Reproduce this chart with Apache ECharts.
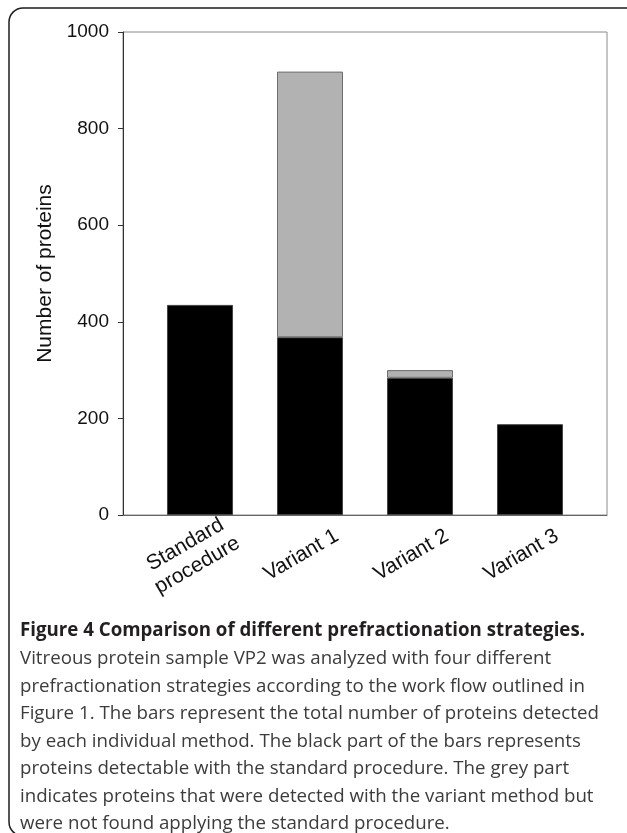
<!DOCTYPE html>
<html>
<head>
<meta charset="utf-8">
<script src="https://cdn.jsdelivr.net/npm/echarts@6/dist/echarts.min.js"></script>
<style>
html, body { margin: 0; padding: 0; background: #fff; }
#grafico { width: 627px; height: 833px; }
</style>
</head>
<body>
<div id="grafico"></div>
<script>
// dados
var categorias = ["Standard\nprocedure", "Variant 1", "Variant 2", "Variant 3"];
var valoresPadrao = [435, 368, 284, 188];   // parte preta
var valoresExtra = [0, 550, 16, 0];         // parte cinza
var ticksY = [0, 200, 400, 600, 800, 1000];

var tituloFigura = "Figure 4 Comparison of different prefractionation strategies.";
var linhasLegenda = [
    "Vitreous protein sample VP2 was analyzed with four different",
    "prefractionation strategies according to the work flow outlined in",
    "Figure 1. The bars represent the total number of proteins detected",
    "by each individual method. The black part of the bars represents",
    "proteins detectable with the standard procedure. The grey part",
    "indicates proteins that were detected with the variant method but",
    "were not found applying the standard procedure."
];

var fonteEixo = "'Liberation Sans', Arial, sans-serif";
var fonteTexto = "'Open Sans', 'Noto Sans', sans-serif";

var myChart = echarts.init(document.getElementById("grafico"));

var option = {
    animation: false,
    // moldura da figura (sai da imagem em baixo e a direita)
    graphic: [
        {
            type: "rect",
            silent: true,
            shape: { x: 9, y: 8, width: 640, height: 828, r: 14 },
            style: { fill: "none", stroke: "#1e1e1e", lineWidth: 1.5 }
        }
    ],
    title: {
        left: 15,
        top: 614,
        text: tituloFigura,
        subtext: linhasLegenda.join("\n"),
        itemGap: 2,
        textStyle: {
            fontFamily: fonteTexto,
            fontSize: 18.7,
            fontWeight: "bold",
            color: "#231f20",
            lineHeight: 24
        },
        subtextStyle: {
            fontFamily: fonteTexto,
            fontSize: 18.7,
            color: "#3c3c3c",
            lineHeight: 27.5
        }
    },
    grid: [
        { left: 123, top: 32, width: 484, height: 483, show: true, borderColor: "#8a8a8a", borderWidth: 1 },
        { left: 145, top: 32, width: 440, height: 483 }
    ],
    xAxis: [
        {
            gridIndex: 0,
            type: "value",
            min: 0,
            max: 1,
            axisLine: { show: true, lineStyle: { color: "#666", width: 1 } },
            axisTick: { show: false },
            axisLabel: { show: false },
            splitLine: { show: false }
        },
        {
            gridIndex: 1,
            type: "category",
            data: categorias,
            axisLine: { show: false },
            axisTick: { show: false },
            axisLabel: {
                rotate: 30,
                align: "center",
                verticalAlign: "middle",
                margin: 35,
                padding: [0, 20, 0, 0],
                fontFamily: fonteEixo,
                fontSize: 21,
                lineHeight: 24,
                color: "#111"
            }
        }
    ],
    yAxis: [
        {
            gridIndex: 0,
            type: "value",
            min: ticksY[0],
            max: ticksY[ticksY.length - 1],
            interval: ticksY[1] - ticksY[0],
            name: "Number of proteins",
            nameLocation: "middle",
            nameGap: 65,
            nameTextStyle: { fontFamily: fonteEixo, fontSize: 21, color: "#111" },
            axisLine: { show: true, lineStyle: { color: "#333", width: 1 } },
            axisTick: { show: true, inside: false, length: 5, lineStyle: { color: "#333" } },
            axisLabel: {
                margin: 14,
                fontFamily: fonteEixo,
                fontSize: 19,
                color: "#111",
                formatter: v => String(v)
            },
            splitLine: { show: false }
        },
        {
            gridIndex: 1,
            type: "value",
            min: ticksY[0],
            max: ticksY[ticksY.length - 1],
            show: false
        }
    ],
    series: [
        {
            name: "standard",
            type: "bar",
            xAxisIndex: 1,
            yAxisIndex: 1,
            stack: "total",
            barWidth: 66,
            data: valoresPadrao,
            itemStyle: { color: "#000", borderColor: "#444", borderWidth: 1 }
        },
        {
            name: "variant only",
            type: "bar",
            xAxisIndex: 1,
            yAxisIndex: 1,
            stack: "total",
            barWidth: 66,
            data: valoresExtra.map(v => v > 0 ? v : null),
            itemStyle: { color: "#b2b2b2", borderColor: "#6e6e6e", borderWidth: 1 }
        }
    ]
};

myChart.setOption(option);
</script>
</body>
</html>
